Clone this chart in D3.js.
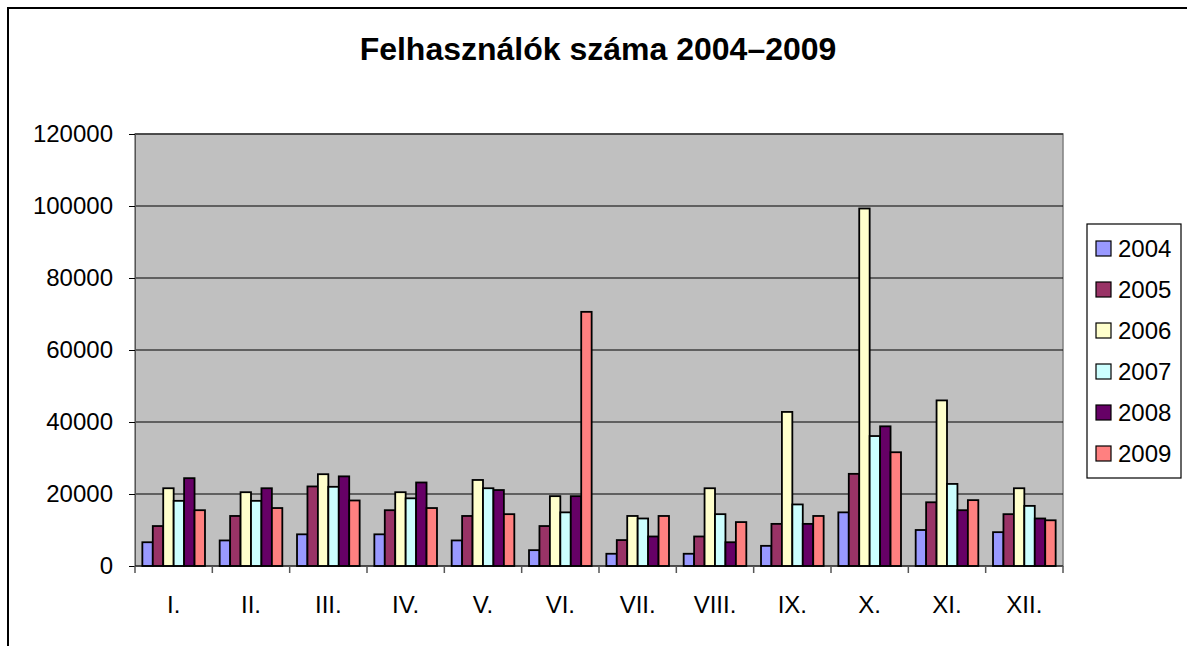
<!DOCTYPE html>
<html><head><meta charset="utf-8">
<script src="https://cdn.jsdelivr.net/npm/d3@7"></script>
<style>body{margin:0;background:#fff;}svg{display:block;font-family:Arial,"Liberation Sans",sans-serif;}</style>
</head><body>
<svg id="c" width="1187" height="646"></svg>
<script>
const title = "Felhasználók száma 2004–2009";
const months = ["I.","II.","III.","IV.","V.","VI.","VII.","VIII.","IX.","X.","XI.","XII."];
const years = ["2004","2005","2006","2007","2008","2009"];
const colors = ["#9999FF","#993366","#FFFFCC","#CCFFFF","#660066","#FF8080"];
const yTicks = [0,20000,40000,60000,80000,100000,120000];
const v2004 = [6600,7100,8800,8800,7100,4400,3400,3400,5600,14900,10000,9400];
const v2005 = [11100,13900,22100,15500,13900,11100,7200,8200,11700,25600,17700,14400];
const v2006 = [21600,20500,25500,20500,23900,19400,13900,21600,42800,99300,46000,21600];
const v2007 = [18100,18100,22000,18800,21600,14900,13200,14400,17100,36100,22800,16700];
const v2008 = [24400,21600,24900,23200,21100,19400,8200,6600,11700,38800,15500,13200];
const v2009 = [15500,16100,18200,16100,14400,70600,13900,12200,13900,31600,18300,12700];
const series = [v2004,v2005,v2006,v2007,v2008,v2009];

const svg = d3.select("#c");
const L=135, R=1063, T=134, B=566;

// outer border
svg.append("path").attr("d","M8,650 L8,8 L1190,8").attr("fill","none").attr("stroke","#000").attr("stroke-width",2);

svg.append("text").attr("x",598).attr("y",60).attr("text-anchor","middle")
  .attr("font-size",32).attr("font-weight","bold").text(title);

const x0 = d3.scaleBand().domain(months).range([L,R]).paddingInner(0.19).paddingOuter(0.095);
const x1 = d3.scaleBand().domain(years).range([0,x0.bandwidth()]);
const y = d3.scaleLinear().domain([0,120000]).range([B,T]);

svg.append("rect").attr("x",L).attr("y",T).attr("width",R-L).attr("height",B-T)
  .attr("fill","#C0C0C0").attr("stroke","#808080").attr("stroke-width",1.5);

svg.append("g").selectAll("line").data(yTicks.slice(1)).join("line")
  .attr("x1",L).attr("x2",R).attr("y1",d=>y(d)).attr("y2",d=>y(d)).attr("stroke","#000").attr("stroke-width",1.2);

const yAxis = svg.append("g").attr("transform",`translate(${L},0)`)
  .call(d3.axisLeft(y).tickValues(yTicks).tickSize(6).tickPadding(16).tickFormat(d3.format("d")));
yAxis.select(".domain").attr("stroke","#555");
yAxis.selectAll("line").attr("stroke","#000");
yAxis.selectAll("text").attr("font-size",24).attr("fill","#000").attr("font-family","Arial,'Liberation Sans',sans-serif");

// bars
const g = svg.append("g");
months.forEach((m,i)=>{
  series.forEach((s,j)=>{
    g.append("rect").attr("x",x0(m)+x1(years[j])).attr("y",y(s[i]))
      .attr("width",x1.bandwidth()).attr("height",B-y(s[i]))
      .attr("fill",colors[j]).attr("stroke","#000").attr("stroke-width",1.8);
  });
});

// x axis
const xStep = (R-L)/months.length;
const xa = svg.append("g");
xa.append("line").attr("x1",L).attr("x2",R).attr("y1",B).attr("y2",B).attr("stroke","#000").attr("stroke-width",1.2);
xa.selectAll(".tk").data(d3.range(months.length+1)).join("line")
  .attr("x1",d=>L+d*xStep).attr("x2",d=>L+d*xStep).attr("y1",B).attr("y2",B+7).attr("stroke","#555").attr("stroke-width",1.5);
xa.selectAll("text").data(months).join("text")
  .attr("x",d=>x0(d)+x0.bandwidth()/2).attr("y",613).attr("text-anchor","middle")
  .attr("font-size",24).text(d=>d);

// legend
const lg = svg.append("g");
lg.append("rect").attr("x",1087).attr("y",224).attr("width",94).attr("height",254)
  .attr("fill","#fff").attr("stroke","#000").attr("stroke-width",1.2);
years.forEach((yr,j)=>{
  const cy = 248 + j*41;
  lg.append("rect").attr("x",1096).attr("y",cy-7).attr("width",15).attr("height",15)
    .attr("fill",colors[j]).attr("stroke","#000").attr("stroke-width",1.2);
  lg.append("text").attr("x",1118).attr("y",cy+9).attr("font-size",24).text(yr);
});
</script>
</body></html>
